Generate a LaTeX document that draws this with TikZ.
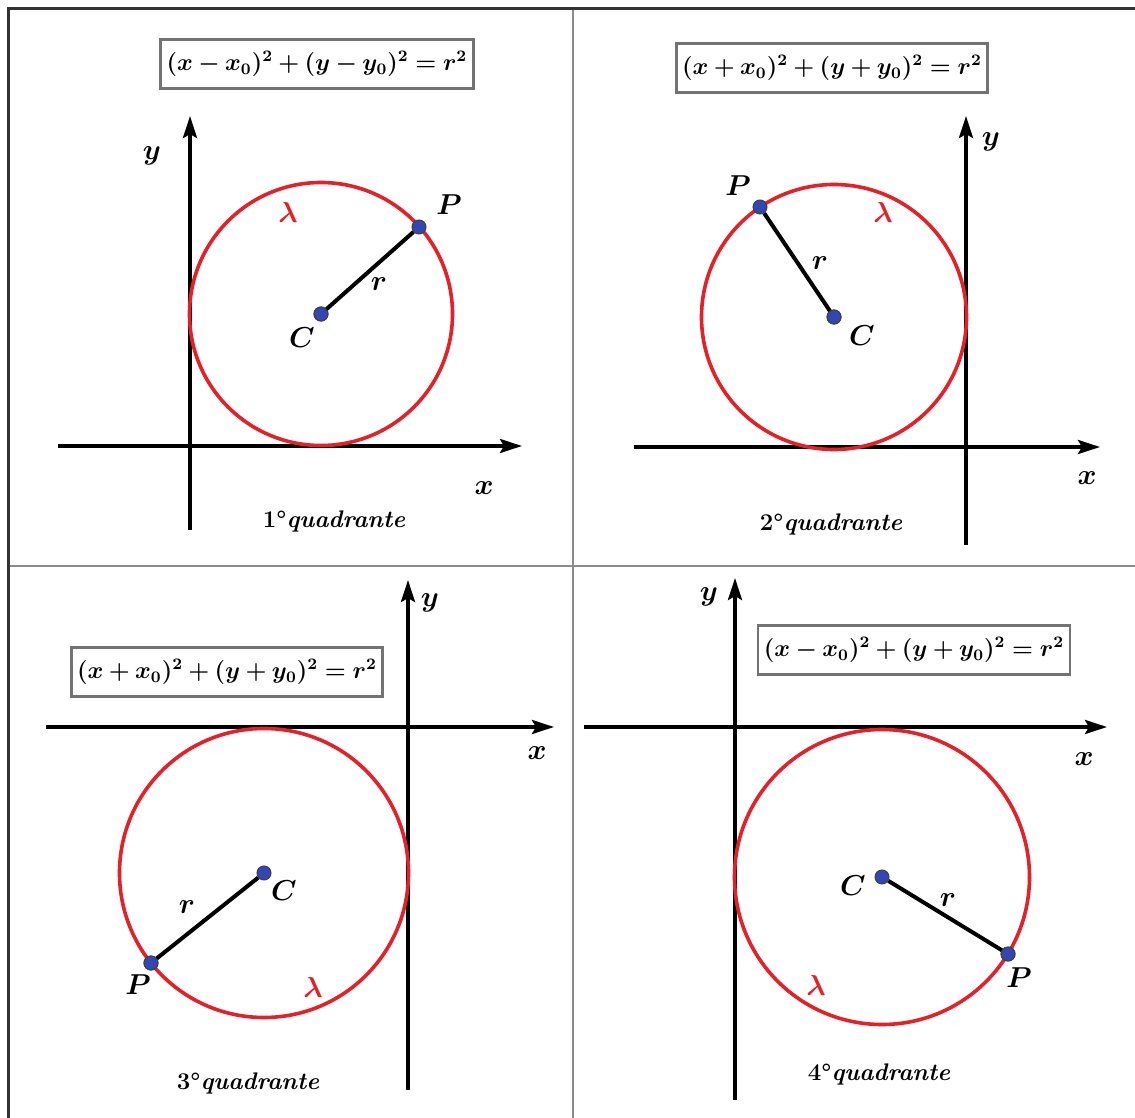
\documentclass[tikz,border=0pt]{standalone}
\usepackage{amsmath,bm}
\usetikzlibrary{arrows.meta}
\definecolor{circred}{RGB}{228,32,40}
\definecolor{ptblue}{RGB}{50,70,180}
\tikzset{
  axisline/.style={line width=1.8pt,-{Stealth[length=11pt,width=7pt,inset=2pt]}},
  circline/.style={draw=circred,line width=1.8pt},
  segline/.style={line width=2pt},
  ptdot/.style={circle,fill=ptblue,draw=black!75,line width=0.5pt,inner sep=0pt,minimum size=7pt},
  labtext/.style={font=\fontsize{14}{16}\selectfont,inner sep=0pt},
  eqnode/.style={draw=black!55,line width=1.4pt,fill=white,font=\fontsize{12}{15}\selectfont,inner xsep=3pt,inner ysep=6pt},
  quadtext/.style={font=\fontsize{12}{14}\selectfont\bfseries\itshape,inner sep=0pt},
  gridline/.style={draw=black!45,line width=0.8pt},
  frameline/.style={draw=black!80,line width=1.5pt}
}
\newcommand{\eqA}{$\bm{(x-x_0)^2+(y-y_0)^2=r^2}$}
\newcommand{\eqB}{$\bm{(x+x_0)^2+(y+y_0)^2=r^2}$}
\newcommand{\eqD}{$\bm{(x-x_0)^2+(y+y_0)^2=r^2}$}
\newcommand{\quadlab}[1]{\textup{#1\textdegree}quadrante}
\begin{document}
\begin{tikzpicture}[x=0.5pt,y=-0.5pt]
\useasboundingbox (0,0) rectangle (1135,1118);
% frame and grid
\draw[gridline] (573,9) -- (573,1118);
\draw[gridline] (8,566) -- (1135,566);
\draw[frameline] (8,1118) -- (8,9) -- (1135,9);

% ---------- Panel 1 ----------
\draw[axisline] (58,446) -- (522,446);
\draw[axisline] (190,530) -- (190,116);
\draw[circline] (321,314) circle[radius=65.75pt];
\node[ptdot] (C1) at (321,314) {};
\node[ptdot] (P1) at (419,227) {};
\draw[segline] (C1.center) -- (P1);
\node[ptdot] at (C1) {};
\node[labtext] (y1) at (152,156) {$\bm{y}$};
\node[labtext] (x1) at (484,488) {$\bm{x}$};
\node[labtext] (pl1) at (449,205) {$\bm{P}$};
\node[labtext] (cl1) at (302,338) {$\bm{C}$};
\node[labtext] (r1) at (379,284) {$\bm{r}$};
\node[labtext,text=circred] (l1) at (288,213) {$\bm{\lambda}$};
\node[quadtext] (q1) at (334,521) {\quadlab{1}};
\node[eqnode] (e1) at (317,64) {\eqA};

% ---------- Panel 2 ----------
\draw[axisline] (634,447) -- (1100,447);
\draw[axisline] (966,545) -- (966,116);
\draw[circline] (834,317) circle[radius=66.25pt];
\node[ptdot] (C2) at (834,317) {};
\node[ptdot] (P2) at (760,207) {};
\draw[segline] (C2.center) -- (P2);
\node[ptdot] at (C2) {};
\node[labtext] (y2) at (991,142) {$\bm{y}$};
\node[labtext] (x2) at (1087,478) {$\bm{x}$};
\node[labtext] (pl2) at (738,186) {$\bm{P}$};
\node[labtext] (cl2) at (862,336) {$\bm{C}$};
\node[labtext] (r2) at (820,263) {$\bm{r}$};
\node[labtext,text=circred] (l2) at (883,213) {$\bm{\lambda}$};
\node[quadtext] (q2) at (831,524) {\quadlab{2}};
\node[eqnode] (e2) at (832,68) {\eqB};

% ---------- Panel 3 ----------
\draw[axisline] (46,727) -- (554,727);
\draw[axisline] (408,1090) -- (408,580);
\draw[circline] (264,873) circle[radius=72.25pt];
\node[ptdot] (C3) at (264,873) {};
\node[ptdot] (P3) at (151,963) {};
\draw[segline] (C3) -- (P3.center);
\node[ptdot] at (P3) {};
\node[labtext] (y3) at (430,603) {$\bm{y}$};
\node[labtext] (x3) at (537,753) {$\bm{x}$};
\node[labtext] (pl3) at (138,985) {$\bm{P}$};
\node[labtext] (cl3) at (284,891) {$\bm{C}$};
\node[labtext] (r3) at (187,907) {$\bm{r}$};
\node[labtext,text=circred] (l3) at (313,987) {$\bm{\lambda}$};
\node[quadtext] (q3) at (248,1083) {\quadlab{3}};
\node[eqnode] (e3) at (227,672) {\eqB};

% ---------- Panel 4 ----------
\draw[axisline] (584,727) -- (1107,727);
\draw[axisline] (735,1100) -- (735,578);
\draw[circline] (882,877) circle[radius=73.75pt];
\node[ptdot] (C4) at (882,877) {};
\node[ptdot] (P4) at (1008,954) {};
\draw[segline] (C4) -- (P4.center);
\node[ptdot] at (P4) {};
\node[labtext] (y4) at (709,597) {$\bm{y}$};
\node[labtext] (x4) at (1084,759) {$\bm{x}$};
\node[labtext] (pl4) at (1019,978) {$\bm{P}$};
\node[labtext] (cl4) at (853,886) {$\bm{C}$};
\node[labtext] (r4) at (948,900) {$\bm{r}$};
\node[labtext,text=circred] (l4) at (816,985) {$\bm{\lambda}$};
\node[quadtext] (q4) at (879,1074) {\quadlab{4}};
\node[eqnode] (e4) at (914,650) {\eqD};
\end{tikzpicture}
\end{document}
